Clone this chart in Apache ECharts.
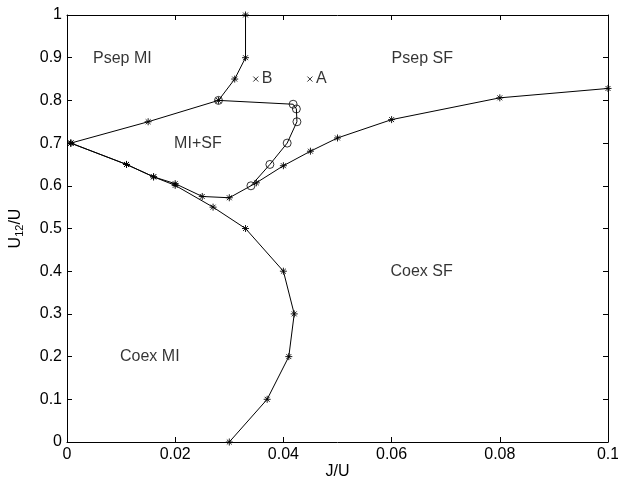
<!DOCTYPE html>
<html>
<head>
<meta charset="utf-8">
<script src="https://cdn.jsdelivr.net/npm/echarts@6/dist/echarts.min.js"></script>
<style>html,body{margin:0;padding:0;background:#fff;}#c{width:618px;height:479px;}</style>
</head>
<body>
<div id="c"></div>
<script>
// ---- data (J/U, U12/U) ----
const sfBoundary = [[0.0007,0.7],[0.011,0.65],[0.016,0.621],[0.02,0.605],[0.025,0.575],[0.03,0.572],[0.035,0.607],[0.04,0.647],[0.045,0.681],[0.05,0.712],[0.06,0.755],[0.08,0.806],[0.1,0.828]];
const coexMiBoundary = [[0.0007,0.7],[0.011,0.65],[0.016,0.621],[0.02,0.601],[0.027,0.55],[0.033,0.5],[0.04,0.4],[0.042,0.3],[0.041,0.2],[0.037,0.1],[0.03,0]];
const psepMiBoundary = [[0.0007,0.7],[0.015,0.75],[0.028,0.8],[0.031,0.85],[0.033,0.9],[0.033,1.0]];
const circleBoundary = [[0.028,0.8],[0.0418,0.791],[0.0424,0.78],[0.0425,0.75],[0.0407,0.70],[0.0375,0.65],[0.034,0.60]];
const regionLabels = ['Psep MI','MI+SF','Psep SF','Coex SF','Coex MI'];
const regionPos = [[0.0048,0.899],[0.0198,0.70],[0.060,0.899],[0.0598,0.40],[0.0098,0.199]];
const pointLabels = ['B','A'];
const pointPos = [[0.0349,0.85],[0.0449,0.85]];
const xTicks = ['0','0.02','0.04','0.06','0.08','0.1'];
const yTicks = ['0','0.1','0.2','0.3','0.4','0.5','0.6','0.7','0.8','0.9','1'];

const FONT = 'Liberation Sans, Arial, Helvetica, sans-serif';
const FS = 16;
const STAR = 'path://M0,-5L0,5M-5,0L5,0M-3.5,-3.5L3.5,3.5M-3.5,3.5L3.5,-3.5';
const CROSS = 'path://M-1,-1L1,1M-1,1L1,-1';

function starLine(data){
  return {type:'line', data:data, symbol:STAR, symbolSize:7, clip:false,
    lineStyle:{color:'#000', width:1},
    itemStyle:{color:'#000', borderColor:'#000', borderWidth:0.9},
    animation:false};
}

const chart = echarts.init(document.getElementById('c'), null, {renderer:'canvas'});
const axisCommon = {
  axisLine:{show:true, onZero:false, lineStyle:{color:'#000', width:1}},
  axisTick:{show:true, inside:true, length:5, lineStyle:{color:'#000'}},
  splitLine:{show:false}
};
chart.setOption({
  backgroundColor:'#fff',
  animation:false,
  grid:{left:67, right:10, top:15, bottom:37, containLabel:false, outerBoundsMode:'none'},
  xAxis:[
    Object.assign({type:'value', min:0, max:0.1, interval:0.02, position:'bottom',
      name:'J/U', nameLocation:'middle', nameGap:22, nameMoveOverlap:false,
      nameTextStyle:{fontFamily:FONT, fontSize:FS, color:'#000'},
      axisLabel:{fontFamily:FONT, fontSize:FS, color:'#000', margin:5,
        formatter:(v)=>xTicks[Math.round(v/0.02)]}}, axisCommon),
    Object.assign({type:'value', min:0, max:0.1, interval:0.02, position:'top',
      axisLabel:{show:false}}, axisCommon)
  ],
  yAxis:[
    Object.assign({type:'value', min:0, max:1, interval:0.1, position:'left',
      name:'{a|U}{s|12}{a|/U}', nameLocation:'middle', nameGap:42, nameRotate:90, nameMoveOverlap:false,
      nameTextStyle:{fontFamily:FONT, fontSize:FS, color:'#000',
        rich:{a:{fontFamily:FONT, fontSize:FS, color:'#000'},
              s:{fontFamily:FONT, fontSize:11, color:'#000', padding:[7,0,0,0]}}},
      axisLabel:{fontFamily:FONT, fontSize:FS, color:'#000', margin:5,
        formatter:(v)=>yTicks[Math.round(v/0.1)]}}, axisCommon),
    Object.assign({type:'value', min:0, max:1, interval:0.1, position:'right',
      axisLabel:{show:false}}, axisCommon)
  ],
  series:[
    starLine(sfBoundary),
    starLine(coexMiBoundary),
    starLine(psepMiBoundary),
    {type:'line', data:circleBoundary, symbol:'circle', symbolSize:8, clip:false,
      lineStyle:{color:'#000', width:1},
      itemStyle:{color:'rgba(0,0,0,0)', borderColor:'#000', borderWidth:0.8}},
    {type:'scatter', symbolSize:0, silent:true,
      data:regionLabels.map((n,i)=>({name:n, value:regionPos[i]})),
      label:{show:true, position:'right', distance:0, formatter:'{b}',
        fontFamily:FONT, fontSize:FS, color:'#000'}},
    {type:'scatter', symbol:CROSS, symbolSize:5, silent:true,
      itemStyle:{color:'#000', borderColor:'#000', borderWidth:1},
      data:pointLabels.map((n,i)=>({name:n, value:pointPos[i]})),
      label:{show:true, position:'right', distance:3, formatter:'{b}',
        fontFamily:FONT, fontSize:FS, color:'#000'}}
  ]
});
</script>
</body>
</html>
